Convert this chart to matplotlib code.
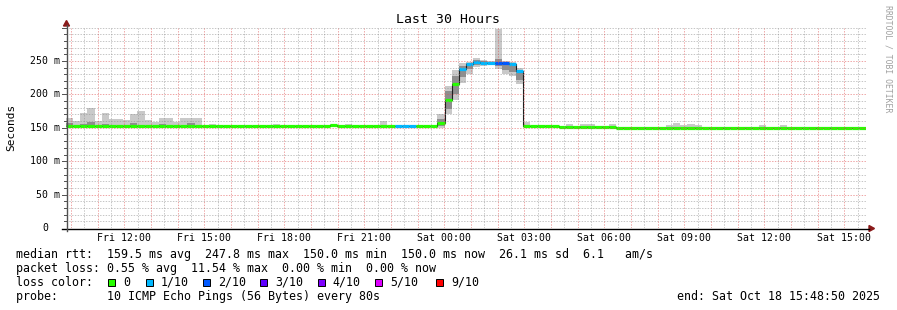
import matplotlib
matplotlib.use("Agg")
import matplotlib.pyplot as plt
from matplotlib.collections import LineCollection
from matplotlib.lines import Line2D
from matplotlib.patches import Polygon, Rectangle
import numpy as np

plt.rcParams['font.family'] = ['DejaVu Sans Mono', 'DejaVu Sans']

# ---------------- data ----------------
title = "Last 30 Hours"
y_label = "Seconds"
credit = "RRDTOOL / TOBI OETIKER"
span_hours = 30.0
first_full_hour = 0.18611          # Fri 10:00 relative to start Fri 09:48:50
time_labels = ["Fri 12:00", "Fri 15:00", "Fri 18:00", "Fri 21:00", "Sat 00:00",
               "Sat 03:00", "Sat 06:00", "Sat 09:00", "Sat 12:00", "Sat 15:00"]
first_label_hour = 2.18611
y_ticks_ms = [0, 50, 100, 150, 200, 250]
y_tick_labels = ["0", "50 m", "100 m", "150 m", "200 m", "250 m"]

median_ms = [
    152, 152, 152, 152, 152, 152, 152, 152, 152, 152,
    152, 152, 152, 152, 152, 152, 152, 152, 152, 152,
    152, 152, 152, 152, 152, 152, 152, 152, 152, 152,
    152, 152, 152, 152, 152, 152, 152, 153.5, 152, 152,
    152, 152, 152, 152, 152, 152, 152, 152, 152, 152,
    152, 152, 157, 191.5, 216, 238, 245, 247.8, 247.5, 247,
    247.5, 246.5, 246, 235.5, 152, 152, 152, 152, 152, 151,
    151, 151, 151, 151, 151, 151, 151, 150, 150, 150,
    150, 150, 150, 150, 150, 150, 150, 150, 150, 150,
    150, 150, 150, 150, 150, 150, 150, 150, 150, 150,
    150, 150, 150, 150, 150, 150, 150, 150, 150, 150,
    150, 150]

smoke_max_ms = [
    165, 160, 172.5, 180, 160, 172.5, 163, 163, 161, 171,
    175.5, 162, 159, 165, 165, 159, 165, 165, 165, 153.5,
    155, 153.5, 153.5, 153.5, 153.5, 153.5, 153.5, 153.5, 153.5, 155,
    153.5, 153.5, 153.5, 153.5, 153.5, 153.5, 153.5, 155, 153.5, 155,
    153.5, 153.5, 153.5, 153.5, 160, 153.5, 153.5, 153.5, 153.5, 153.5,
    153.5, 153.5, 170, 212, 236, 247, 249, 255, 252, 250,
    298, 250, 248, 240, 158, 153.5, 153.5, 153.5, 153.5, 152.5,
    155, 152.5, 155, 155, 152.5, 152.5, 155, 151.5, 151.5, 151.5,
    151.5, 151.5, 151.5, 151.5, 154, 157, 154, 155, 154, 151.5,
    151.5, 151.5, 151.5, 151.5, 151.5, 151.5, 151.5, 154, 151.5, 151.5,
    154, 151.5, 151.5, 151.5, 151.5, 151.5, 151.5, 151.5, 151.5, 151.5,
    151.5, 151.5]

smoke_min_ms = [
    150.5, 150.5, 150.5, 150.5, 150.5, 150.5, 150.5, 150.5, 150.5, 150.5,
    150.5, 150.5, 150.5, 150.5, 150.5, 150.5, 150.5, 150.5, 150.5, 150.5,
    150.5, 150.5, 150.5, 150.5, 150.5, 150.5, 150.5, 150.5, 150.5, 150.5,
    150.5, 150.5, 150.5, 150.5, 150.5, 150.5, 150.5, 152, 150.5, 150.5,
    150.5, 150.5, 150.5, 150.5, 150.5, 150.5, 150.5, 150.5, 150.5, 150.5,
    150.5, 150.5, 150, 171, 192, 217, 231, 241, 243, 245,
    238, 231, 228, 216, 150.5, 150.5, 150.5, 150.5, 150.5, 149.5,
    149.5, 149.5, 149.5, 149.5, 149.5, 149.5, 149.5, 148.5, 148.5, 148.5,
    148.5, 148.5, 148.5, 148.5, 148.5, 148.5, 148.5, 148.5, 148.5, 148.5,
    148.5, 148.5, 148.5, 148.5, 148.5, 148.5, 148.5, 148.5, 148.5, 148.5,
    148.5, 148.5, 148.5, 148.5, 148.5, 148.5, 148.5, 148.5, 148.5, 148.5,
    148.5, 148.5]

core_hi_ms = [
    157.5, 153, 155.5, 158.5, 153, 155.5, 153, 153, 153, 157.5,
    153, 153, 153, 155.5, 153, 153, 153, 157.5, 153, 153,
    153, 153, 153, 153, 153, 153, 153, 153, 153, 153,
    153, 153, 153, 153, 153, 153, 153, 154.5, 153, 153,
    153, 153, 153, 153, 153, 153, 153, 153, 153, 153,
    153, 153, 163, 205, 228, 243, 247, 251, 250, 249,
    253, 248, 246, 237, 153, 153, 153, 153, 153, 152,
    152, 152, 152, 152, 152, 152, 152, 151, 151, 151,
    151, 151, 151, 151, 151, 151, 151, 151, 151, 151,
    151, 151, 151, 151, 151, 151, 151, 151, 151, 151,
    151, 151, 151, 151, 151, 151, 151, 151, 151, 151,
    151, 151]

core_lo_ms = [
    151, 151, 151, 151, 151, 151, 151, 151, 151, 151,
    151, 151, 151, 151, 151, 151, 151, 151, 151, 151,
    151, 151, 151, 151, 151, 151, 151, 151, 151, 151,
    151, 151, 151, 151, 151, 151, 151, 152.5, 151, 151,
    151, 151, 151, 151, 151, 151, 151, 151, 151, 151,
    151, 151, 153, 178, 200, 226, 238, 244, 245, 246,
    243, 236, 234, 222, 151, 151, 151, 151, 151, 150,
    150, 150, 150, 150, 150, 150, 150, 149, 149, 149,
    149, 149, 149, 149, 149, 149, 149, 149, 149, 149,
    149, 149, 149, 149, 149, 149, 149, 149, 149, 149,
    149, 149, 149, 149, 149, 149, 149, 149, 149, 149,
    149, 149]

loss_count = [
    0, 0, 0, 0, 0, 0, 0, 0, 0, 0,
    0, 0, 0, 0, 0, 0, 0, 0, 0, 0,
    0, 0, 0, 0, 0, 0, 0, 0, 0, 0,
    0, 0, 0, 0, 0, 0, 0, 0, 0, 0,
    0, 0, 0, 0, 0, 0, 1, 1, 1, 0,
    0, 0, 0, 0, 0, 1, 1, 1, 1, 1,
    2, 2, 1, 1, 0, 0, 0, 0, 0, 0,
    0, 0, 0, 0, 0, 0, 0, 0, 0, 0,
    0, 0, 0, 0, 0, 0, 0, 0, 0, 0,
    0, 0, 0, 0, 0, 0, 0, 0, 0, 0,
    0, 0, 0, 0, 0, 0, 0, 0, 0, 0,
    0, 0]

loss_levels = [0, 1, 2, 3, 4, 5, 9]
loss_labels = ["0", "1/10", "2/10", "3/10", "4/10", "5/10", "9/10"]
loss_colors = ["#26ff00", "#00b8ff", "#0059ff", "#5e00ff", "#7e00ff", "#dd00ff", "#ff0000"]

stats_rtt = "median rtt:  159.5 ms avg  247.8 ms max  150.0 ms min  150.0 ms now  26.1 ms sd  6.1   am/s"
stats_loss = "packet loss: 0.55 % avg  11.54 % max  0.00 % min  0.00 % now"
probe_text = "probe:       10 ICMP Echo Pings (56 Bytes) every 80s"
end_text = "end: Sat Oct 18 15:48:50 2025"

# ---------------- layout ----------------
W, H, DPI = 897, 310, 100
X0, X1 = 66, 866
YB, YT = 228, 27.6

fig = plt.figure(figsize=(W / DPI, H / DPI), dpi=DPI)
fig.patch.set_facecolor("white")
ax = fig.add_axes([X0 / W, (H - YB) / H, (X1 - X0) / W, (YB - YT) / H])
ax.set_facecolor("white")
ax.set_xlim(0, span_hours)
ax.set_ylim(0, 300)
for s in ax.spines.values():
    s.set_visible(False)
ax.set_xticks([])
ax.set_yticks([])


def fpx(x, y):
    return (x / W, 1 - y / H)


n = len(median_ms)
bw = span_hours / n
edges = np.arange(n + 1) * bw
med = np.array(median_ms, float)


def ext(a):
    a = np.asarray(a, float)
    return np.append(a, a[-1])


# smoke
ax.fill_between(edges, ext(smoke_min_ms), ext(smoke_max_ms), step="post",
                color="#c9c9c9", linewidth=0, zorder=2)
ax.fill_between(edges, ext(core_lo_ms), ext(core_hi_ms), step="post",
                color="#8e8e8e", linewidth=0, zorder=3)

# dark median connector
ax.stairs(med, edges, baseline=None, color="#1e1e1e", linewidth=0.8, zorder=4)

# coloured median by loss
cmap = dict(zip(loss_levels, loss_colors))
segs = [[(edges[i], med[i]), (edges[i + 1], med[i])] for i in range(n)]
cols = [cmap[l] for l in loss_count]
lc = LineCollection(segs, colors=cols, linewidths=2.3, zorder=5)
lc.set_capstyle("butt")
ax.add_collection(lc)

# grid (drawn on top, semi-transparent like rrdtool)
gray = (0.56, 0.56, 0.56, 0.5)
pink = (0.87, 0.31, 0.31, 0.5)
dots = (0, (1.4, 1.4))
for v in range(10, 301, 10):
    if v % 50 == 0 and v < 300:
        ax.axhline(v, color=pink, lw=0.72, ls=dots, zorder=6)
    else:
        ax.axhline(v, color=gray, lw=0.72, ls=dots, zorder=6)
h = first_full_hour
while h < span_hours:
    ax.axvline(h, color=pink, lw=0.72, ls=dots, zorder=6)
    if h + 0.5 < span_hours:
        ax.axvline(h + 0.5, color=gray, lw=0.72, ls=dots, zorder=6)
    h += 1.0

# axes lines and arrows
fig.add_artist(Line2D([fpx(62, 228.5)[0], fpx(869, 228.5)[0]],
                      [fpx(62, 228.5)[1], fpx(869, 228.5)[1]],
                      color="black", lw=1.0))
fig.add_artist(Line2D([fpx(66.5, 231)[0], fpx(66.5, 25)[0]],
                      [fpx(66.5, 231)[1], fpx(66.5, 25)[1]],
                      color="#505050", lw=1.0))
fig.add_artist(Polygon([fpx(869, 225.5), fpx(874.5, 228.5), fpx(869, 231.5)],
                       closed=True, color="#8b1a1a", transform=fig.transFigure))
fig.add_artist(Polygon([fpx(63.5, 26), fpx(66.5, 20.5), fpx(69.5, 26)],
                       closed=True, color="#8b1a1a", transform=fig.transFigure))

# y ticks marks and labels
yt = ax.get_yaxis_transform()
for v in range(10, 301, 10):
    L = 4 if v % 50 == 0 else 2
    ax.plot([-(L) / 800, 0], [v, v], transform=yt, color="#505050", lw=0.7,
            clip_on=False, zorder=7)
for v, lab in zip(y_ticks_ms, y_tick_labels):
    xr = (60 - X0) / 800 if lab != "0" else (48 - X0) / 800
    ax.text(xr, v, lab, transform=yt, ha="right", va="center",
            fontsize=7.1, color="black")

# x labels
xt = ax.get_xaxis_transform()
for k, lab in enumerate(time_labels):
    ax.text(first_label_hour + 3 * k, -(238 - YB) / (YB - YT) - 0.0, lab,
            transform=xt, ha="center", va="center", fontsize=7.1)

# texts
fig.text(*fpx(447.5, 19.5), title, ha="center", va="center", fontsize=9.5)
fig.text(*fpx(11, 127.5), y_label, ha="center", va="center", rotation=90,
         fontsize=8)
fig.text(*fpx(887.5, 59), credit, ha="center", va="center", rotation=270,
         fontsize=5.9, color="#a0a0a0")

LF = 8.4
fig.text(*fpx(16, 254.3), stats_rtt, ha="left", va="center", fontsize=LF)
fig.text(*fpx(16, 268.7), stats_loss, ha="left", va="center", fontsize=LF)
fig.text(*fpx(16, 282.3), "loss color:", ha="left", va="center", fontsize=LF)
fig.text(*fpx(16, 296.3), probe_text, ha="left", va="center", fontsize=LF)
fig.text(*fpx(880, 296.3), end_text, ha="right", va="center", fontsize=LF)

box_x = [108.3, 145.7, 203, 260.3, 317.7, 375, 436]
for bx, col, lab in zip(box_x, loss_colors, loss_labels):
    x0f, y0f = fpx(bx, 286)
    fig.add_artist(Rectangle((x0f, y0f), 7 / W, 7.5 / H, transform=fig.transFigure,
                             facecolor=col, edgecolor="black", lw=0.7))
    fig.text(*fpx(bx + 15, 282.3), lab, ha="left", va="center", fontsize=LF)

fig.savefig("out.png", dpi=DPI, facecolor="white")
